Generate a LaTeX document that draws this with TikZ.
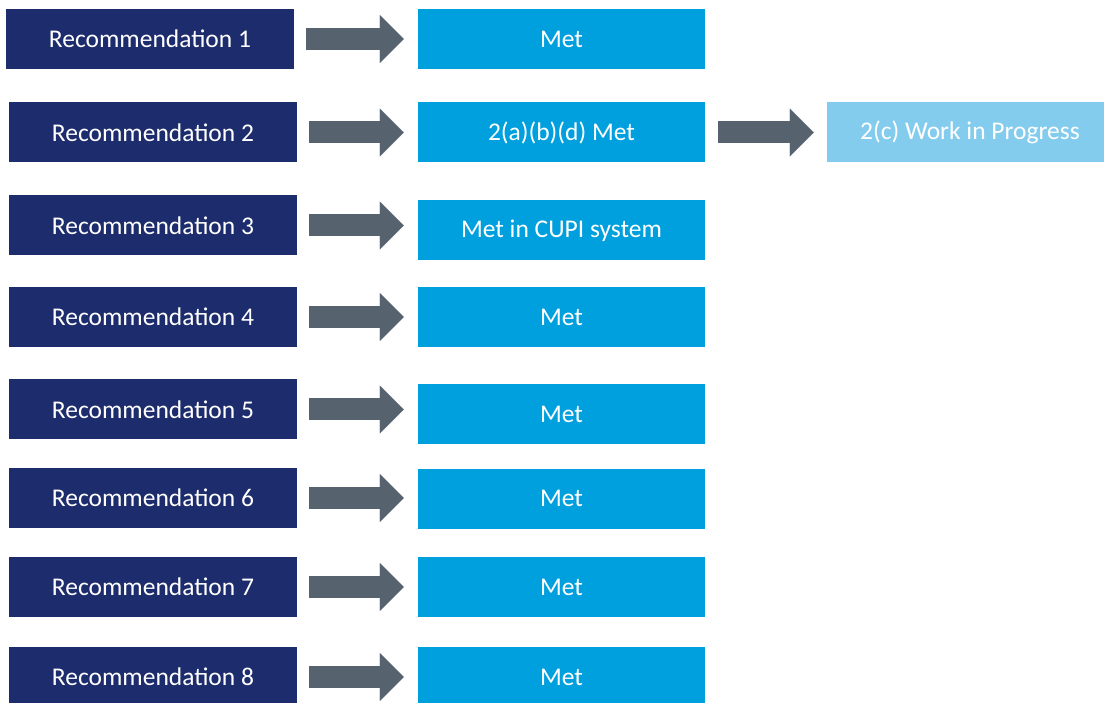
\documentclass[tikz,border=0pt]{standalone}
\usepackage{fontspec}
\setmainfont{Carlito}
\usetikzlibrary{arrows.meta}

\definecolor{recnavy}{HTML}{1D2C6C}
\definecolor{metblue}{HTML}{009FDD}
\definecolor{wipblue}{HTML}{84CCEE}
\definecolor{arrowgray}{HTML}{56636E}

\tikzset{
	recbox/.style={fill=recnavy, text=white, minimum width=288pt, minimum height=60pt, inner sep=0pt, font=\fontsize{25.5}{30}\selectfont},
	metbox/.style={recbox, fill=metblue, minimum width=287pt},
	wipbox/.style={recbox, fill=wipblue, minimum width=286pt},
	blockarrow/.style={draw=arrowgray, line width=22pt, -{Triangle[length=24pt, width=48pt, line width=0.1pt]}, shorten <=12pt, shorten >=14pt}
}

\begin{document}
\begin{tikzpicture}[x=1pt, y=-1pt]
		\useasboundingbox (0,0) rectangle (1104,703);

		\node[recbox] (r1) at (150,39) {Recommendation 1};
		\node[recbox] (r2) at (153,132.5) {Recommendation 2};
		\node[recbox] (r3) at (153,225.5) {Recommendation 3};
		\node[recbox] (r4) at (153,317) {Recommendation 4};
		\node[recbox] (r5) at (153,409.5) {Recommendation 5};
		\node[recbox] (r6) at (153,498) {Recommendation 6};
		\node[recbox] (r7) at (153,587) {Recommendation 7};
		\node[recbox] (r8) at (153,677) {Recommendation 8};

		\node[metbox] (m1) at (561.5,39.5) {Met};
		\node[metbox] (m2) at (561.5,132.5) {2(a)(b)(d) Met};
		\node[metbox] (m3) at (561.5,230.5) {Met in CUPI system};
		\node[metbox] (m4) at (561.5,317) {Met};
		\node[metbox] (m5) at (561.5,414.5) {Met};
		\node[metbox] (m6) at (561.5,498.5) {Met};
		\node[metbox] (m7) at (561.5,587) {Met};
		\node[metbox] (m8) at (561.5,677) {Met};

		\node[wipbox] (w2) at (970,132.5) {2(c) Work in Progress};

		\draw[blockarrow] (r1.east) -- (r1.east -| m1.west);
		\draw[blockarrow] (r2.east) -- (r2.east -| m2.west);
		\draw[blockarrow] (r3.east) -- (r3.east -| m3.west);
		\draw[blockarrow] (r4.east) -- (r4.east -| m4.west);
		\draw[blockarrow] (r5.east) -- (r5.east -| m5.west);
		\draw[blockarrow] (r6.east) -- (r6.east -| m6.west);
		\draw[blockarrow] (r7.east) -- (r7.east -| m7.west);
		\draw[blockarrow] (r8.east) -- (r8.east -| m8.west);
		\draw[blockarrow, shorten <=13pt, shorten >=13pt] (m2) -- (w2);
\end{tikzpicture}
\end{document}
